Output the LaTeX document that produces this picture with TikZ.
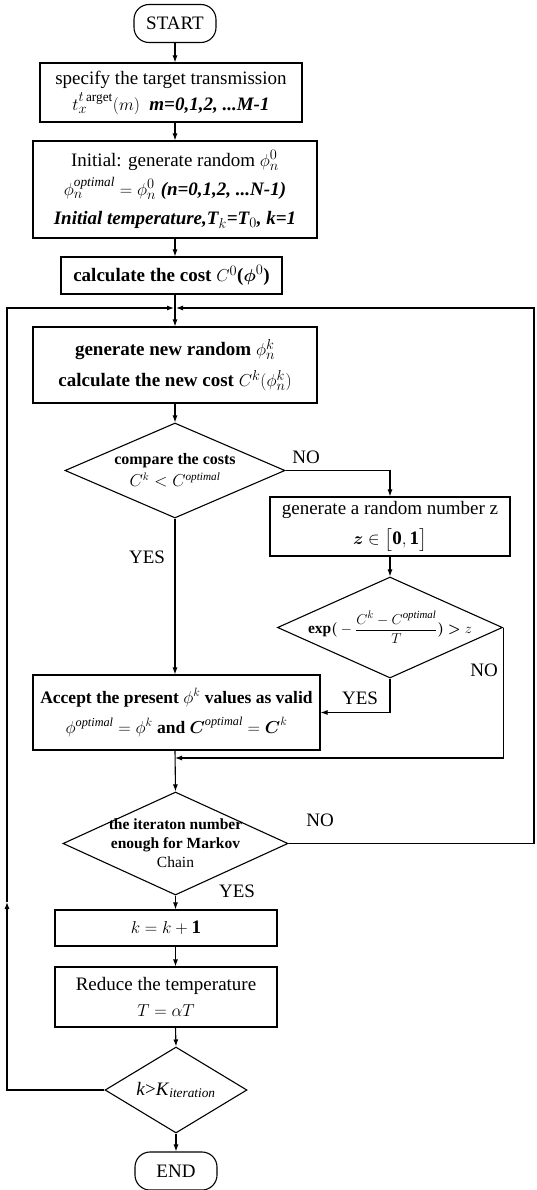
\documentclass[tikz,border=0pt]{standalone}
\usepackage{amsmath,amssymb}
\usepackage{fontspec}
\setmainfont{Liberation Serif}
\usepackage{tikz}
\usetikzlibrary{shapes.geometric}
\usetikzlibrary{arrows.meta}
\usetikzlibrary{positioning}

\begin{document}
\begin{tikzpicture}[x=1pt,y=-1pt,line width=1.1pt,
  every node/.style={font=\fontsize{19}{26}\selectfont},
  flowbox/.style={draw,rectangle,align=center,inner sep=0pt},
  terminal/.style={draw,rectangle,rounded corners=15pt,minimum width=82pt,minimum height=38pt},
  decision/.style={draw,diamond,inner sep=0pt},
  dtext/.style={align=center,font=\fontsize{15.5}{19}\selectfont},
  answer/.style={font=\fontsize{19}{22}\selectfont},
  flow/.style={-{Latex[length=7pt,width=5pt]}}]
  \useasboundingbox (0,0) rectangle (536,1190);
  %main column
  \node[terminal,name=start] at (175,23.5) {START};
  \node[flowbox,name=spec,minimum width=262pt,minimum height=59pt] at (171,92.5)
    {specify the target transmission\\$t_x^{t\,\text{arget}}(m)$\ \ \textbf{\textit{m=0,1,2, ...M-1}}};
  \node[flowbox,name=init,minimum width=284pt,minimum height=97pt,font=\fontsize{19}{29}\selectfont] at (175,189.5)
    {Initial: generate random $\phi_n^0$\\$\phi_n^{\textit{optimal}}=\phi_n^0$\ \textbf{\textit{(n=0,1,2, ...N-1)}}\\\textbf{\textit{Initial temperature,T$_k$=T$_0$, k=1}}};
  \node[flowbox,name=cost0,minimum width=221pt,minimum height=37pt] at (171.5,275.5)
    {\textbf{calculate the cost} $C^0$\textbf{(}$\boldsymbol{\phi}^0$\textbf{)}};
  \coordinate (J) at (175,308);
  \node[flowbox,name=gen,minimum width=284pt,minimum height=76pt,font=\fontsize{19}{31}\selectfont] at (175,365)
    {\textbf{generate new random} $\phi_n^k$\\\textbf{calculate the new cost} $C^k(\phi_n^k)$};
  \node[decision,name=cmp,minimum width=220pt,minimum height=95pt] at (175,470.5) {};
  \node[dtext,name=cmp-t,font=\fontsize{16}{22}\selectfont] at (cmp.center) {\textbf{compare the costs}\\$C^k<C^{\textit{optimal}}$};
  %right branch
  \node[flowbox,name=rnd,minimum width=240pt,minimum height=59pt,font=\fontsize{19}{30}\selectfont] at (390,526.5)
    {generate a random number z\\$\boldsymbol{z}\in\big[\mathbf{0,1}\big]$};
  \node[decision,name=exp,minimum width=225pt,minimum height=101pt] at (390,627.5) {};
  \node[dtext,name=exp-t] at (exp.center)
    {$\mathbf{exp}\boldsymbol{(}-\dfrac{C^k-C^{\textit{optimal}}}{T}\boldsymbol{)}\boldsymbol{>}z$};
  \node[flowbox,name=acc,minimum width=287pt,minimum height=75pt,font=\fontsize{17.5}{30}\selectfont] at (176.5,712.5)
    {\textbf{Accept the present} $\phi^k$ \textbf{values as valid}\\$\phi^{\textit{optimal}}=\phi^k$ \textbf{and} $\boldsymbol{C}^{\textit{optimal}}=\boldsymbol{C}^k$};
  \coordinate (merge) at (175,758);
  \node[decision,name=iter,minimum width=225pt,minimum height=103pt] at (175.5,843.5) {};
  \node[dtext,name=iter-t] at (iter.center)
    {\textbf{the iteraton number}\\\textbf{enough for Markov}\\Chain};
  \node[flowbox,name=inc,minimum width=222pt,minimum height=36pt] at (166,928) {$k=k+\mathbf{1}$};
  \node[flowbox,name=red,minimum width=222pt,minimum height=60pt] at (166,997)
    {Reduce the temperature\\$T=\alpha T$};
  \node[decision,name=kdia,minimum width=142pt,minimum height=86pt] at (176,1090) {};
  \node[dtext,name=kdia-t,font=\fontsize{19}{22}\selectfont] at (kdia.center) {\textit{k}>\textit{K}$_{\textit{iteration}}$};
  \node[terminal,name=end] at (176,1171) {END};
  %loop corners
  \coordinate (lp) at (7,308);
  \coordinate (lm) at (7,902);
  \coordinate (rp) at (534,308);
  %answers
  \node[answer,name=no1] at (306,457) {NO};
  \node[answer,name=yes1] at (147,557) {YES};
  \node[answer,name=yes2] at (360,698) {YES};
  \node[answer,name=no2] at (484,670) {NO};
  \node[answer,name=no3] at (320,820) {NO};
  \node[answer,name=yes3] at (237,891) {YES};
  %connectors
  \draw[flow] (start) -- (start |- spec.north);
  \draw[flow] (start |- spec.south) -- (init);
  \draw[flow] (init) -- (init |- cost0.north);
  \draw[flow] (init |- cost0.south) -- (gen);
  \draw[flow] (gen) -- (cmp);
  \draw[flow] (cmp.east) -| (rnd.north);
  \draw[flow] (rnd) -- (exp);
  \draw[flow] (exp.south) |- (acc.east);
  \draw[flow] (exp.east) |- (merge);
  \draw[flow] (cmp.south) -- (cmp.south |- acc.north);
  \draw[flow] (cmp.south |- acc.south) -- (iter.north);
  \draw[flow] (iter.south) -- (iter.south |- inc.north);
  \draw[flow] (iter.south |- inc.south) -- (iter.south |- red.north);
  \draw[flow] (iter.south |- red.south) -- (kdia.north);
  \draw[flow] (kdia) -- (end);
  %loop back
  \draw[flow] (kdia.west) -| (lm);
  \draw[flow,shorten >=1pt] (lm) -- (lp) -- (J);
  \draw[flow,shorten >=1pt] (iter.east) -| (rp) -- (J);
\end{tikzpicture}
\end{document}
